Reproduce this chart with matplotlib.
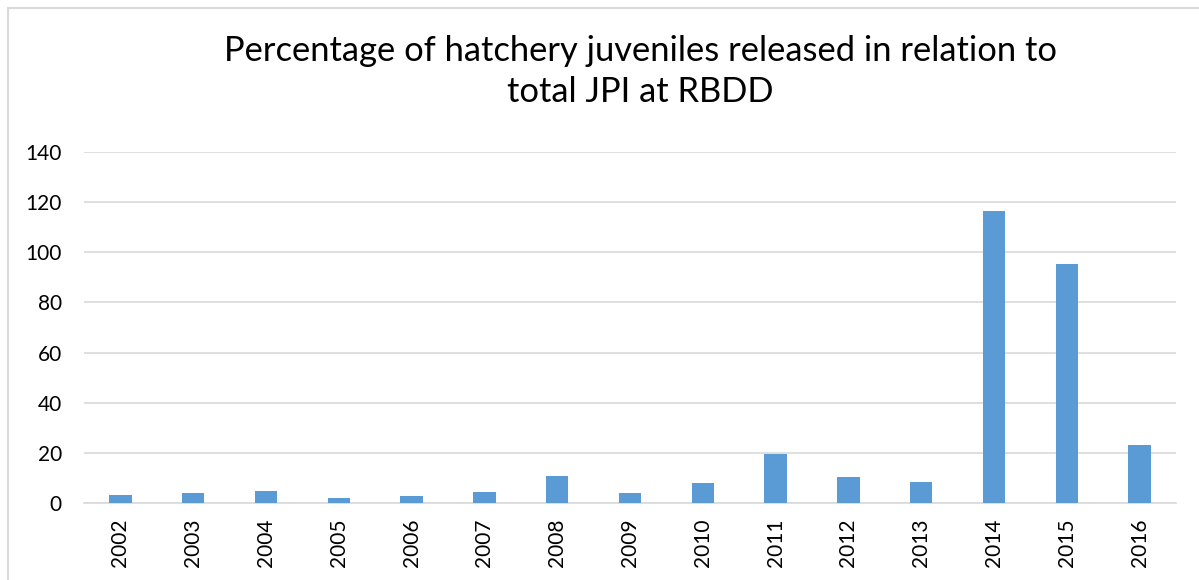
import matplotlib
matplotlib.use("Agg")
import matplotlib.pyplot as plt
from matplotlib.patches import Rectangle

years = ["2002", "2003", "2004", "2005", "2006", "2007", "2008", "2009",
         "2010", "2011", "2012", "2013", "2014", "2015", "2016"]
values = [3.1, 3.9, 4.7, 1.9, 2.7, 4.4, 10.7, 4.0,
          8.0, 19.6, 10.3, 8.4, 116.4, 95.2, 23.0]
yticks = [0, 20, 40, 60, 80, 100, 120, 140]
title = "Percentage of hatchery juveniles released in relation to\ntotal JPI at RBDD"

plt.rcParams['font.family'] = ['Lato', 'DejaVu Sans']

W, H = 1199, 580
fig = plt.figure(figsize=(W / 100, H / 100), dpi=100)
ax = fig.add_axes([84 / W, 1 - 503 / H, (1176 - 84) / W, (503 - 152) / H])

x = list(range(len(years)))
ax.bar(x, values, width=0.31, color="#5B9BD5", zorder=3)
ax.set_xlim(-0.5, len(years) - 0.5)
ax.set_ylim(0, 140)
ax.set_yticks(yticks)
ax.set_xticks(x)
ax.set_xticklabels(years, rotation=90)
ax.tick_params(axis='both', length=0, labelsize=15, colors="#000000")
ax.tick_params(axis='y', pad=16)
ax.tick_params(axis='x', pad=11)
ax.grid(axis='y', color="#D9D9D9", linewidth=1.2, zorder=0)
for s in ['top', 'right', 'left']:
    ax.spines[s].set_visible(False)
ax.spines['bottom'].set_color("#D9D9D9")
ax.spines['bottom'].set_linewidth(1.2)

fig.text(640 / W, 1 - 35 / H, title, ha='center', va='top', fontsize=24.8,
         linespacing=1.33)

# chart border (top and left edges visible)
fig.patches.append(Rectangle((7.5 / W, -0.1), 1.2, 1 - 7.5 / H + 0.1,
                             transform=fig.transFigure, fill=False,
                             edgecolor="#D9D9D9", linewidth=1.5))

fig.savefig("out.png", dpi=100)
